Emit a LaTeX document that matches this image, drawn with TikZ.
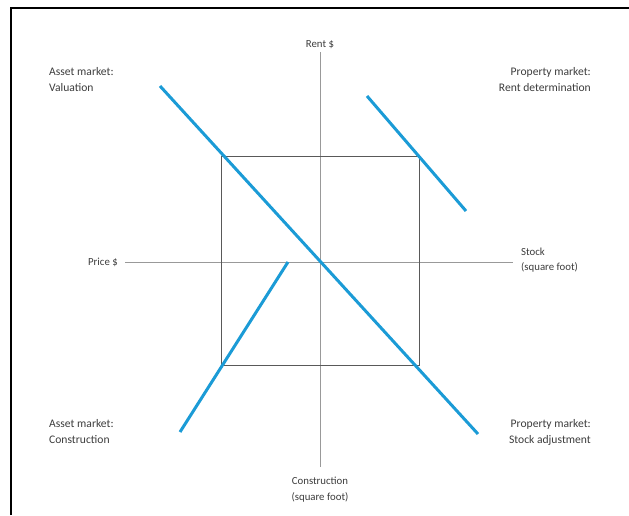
\documentclass[tikz,border=0pt]{standalone}
\usepackage{fontspec}
\setmainfont{Carlito}
\usepackage{tikz}
\usetikzlibrary{positioning}
\definecolor{curveblue}{RGB}{27,155,214}
\definecolor{textgray}{RGB}{60,60,60}

\begin{document}
\begin{tikzpicture}[x=1pt, y=-1pt,
        axis/.style={draw=gray!80, line width=1pt},
        quad/.style={draw=black!65, line width=0.9pt},
        curve/.style={draw=curveblue, line width=3pt},
        axislabel/.style={font=\fontsize{10.8}{15.5}\selectfont, text=textgray, inner sep=0pt},
        corner/.style={font=\fontsize{11.6}{16}\selectfont, text=textgray, inner sep=0pt}]

        \useasboundingbox (0,0) rectangle (629,515);

        % --- Frame (cut off at right and bottom) ---
        \draw[line width=2.2pt] (11,515) -- (11,8) -- (629,8);

        % --- Axis labels ---
        \node[axislabel, anchor=south] (rent) at (320,49) {Rent \$};
        \node[axislabel, anchor=north, align=center] (constr) at (320,477)
            {Construction\\(square foot)};
        \node[axislabel, anchor=east] (price) at (118,262) {Price \$};
        \node[axislabel, anchor=west, align=left] (stock) at (521,260)
            {Stock\\(square foot)};

        % --- Axes ---
        \draw[axis, shorten <=3pt, shorten >=10pt] (rent.south) -- (constr.north);
        \draw[axis, shorten <=7pt, shorten >=8pt] (price.east) -- (stock.west |- price.east);

        % --- Four-quadrant box ---
        \coordinate (tl) at (221,156);
        \coordinate (br) at (419,365);
        \draw[quad] (tl) rectangle (br);

        % --- Market schedules ---
        \coordinate (val1) at (160,86);
        \coordinate (val2) at (478,434);
        \coordinate (rd1) at (367,96);
        \coordinate (rd2) at (466,211);
        \coordinate (con1) at (180,432);
        \coordinate (con2) at (288,262);
        \draw[curve] (val1) -- (val2);
        \draw[curve] (rd1) -- (rd2);
        \draw[curve] (con1) -- (con2);

        % --- Quadrant titles ---
        \node[corner, anchor=north west, align=left] (av) at (49,67)
            {Asset market:\\Valuation};
        \node[corner, anchor=north east, align=right] (pr) at (591,67)
            {Property market:\\Rent determination};
        \node[corner, anchor=north west, align=left] (ac) at (49,419)
            {Asset market:\\Construction};
        \node[corner, anchor=north east, align=right] (ps) at (591,419)
            {Property market:\\Stock adjustment};

    \end{tikzpicture}
\end{document}
